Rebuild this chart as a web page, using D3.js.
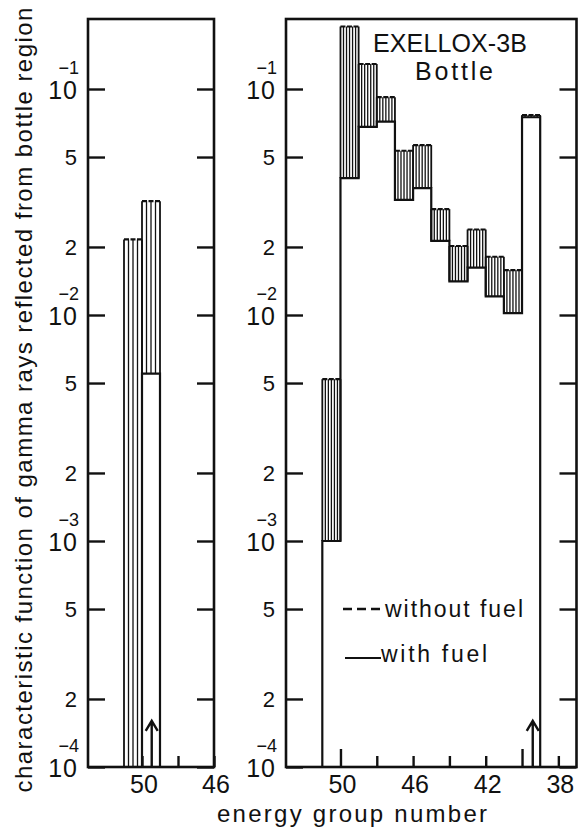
<!DOCTYPE html>
<html>
<head>
<meta charset="utf-8">
<script src="https://cdn.jsdelivr.net/npm/d3@7"></script>
<style>
    body { margin: 0; background: #fff; }
    svg text { font-family: "Liberation Sans", Arial, sans-serif; fill: #111; }
</style>
</head>
<body>
<svg id="chart" width="578" height="832"></svg>
<script>
// each bar spans energy group g down to g - 1
const leftGroups = [51, 50];
const leftWithout = [0.0216, 0.0319];
const leftWith = [0.0001, 0.0055];
const leftArrow = 49.46;

const rightGroups = [51, 50, 49, 48, 47, 46, 45, 44, 43, 42, 41, 40];
const rightWithout = [0.0052, 0.189, 0.129, 0.092, 0.0533, 0.0565, 0.0294, 0.0202, 0.0239, 0.0181, 0.0158, 0.0767];
const rightWith = [0.0010, 0.0403, 0.068, 0.0717, 0.0323, 0.0364, 0.0213, 0.0141, 0.0162, 0.0121, 0.0102, 0.075];
const rightArrow = 39.41;

const yTicks = [1e-1, 5e-2, 2e-2, 1e-2, 5e-3, 2e-3, 1e-3, 5e-4, 2e-4, 1e-4];
const leftXTicks = [50, 48, 46];
const leftXLabels = [50, 46];
const rightXTicks = [50, 48, 46, 44, 42, 40, 38];
const rightXLabels = [50, 46, 42, 38];
const longXTicks = [50, 40];

const svg = d3.select("#chart");
const frameTop = 19, frameBottom = 767;

let y = d3.scaleLog().domain([1e-4, 1e-1]).range([frameBottom, 89]);

/**
 * Draw one framed panel with its histogram
 */
function drawPanel(p) {
    let x = d3.scaleLinear().domain(p.domain).range([p.left, p.right]);
    let g = svg.append("g");

    // hatched region between the two curves
    p.groups.forEach((grp, i) => {
        let x0 = x(grp), x1 = x(grp - 1);
        let n = Math.round((x1 - x0) / p.hatch);
        let xs = d3.range(n + 1).map(k => x0 + k * (x1 - x0) / n);
        g.append("g").selectAll("line")
            .data(xs)
            .enter().append("line")
            .attr("x1", d => d).attr("x2", d => d)
            .attr("y1", y(p.without[i])).attr("y2", y(p.with[i]))
            .attr("stroke", "#111")
            .attr("stroke-width", (d, k) => (k === 0 || k === n) ? 1.8 : 1.3);
        // without fuel (dashed top)
        g.append("line")
            .attr("x1", x0).attr("x2", x1)
            .attr("y1", y(p.without[i])).attr("y2", y(p.without[i]))
            .attr("stroke", "#111").attr("stroke-width", 2.2)
            .attr("stroke-dasharray", "5,1.5");
    });

    // with fuel step line
    let pts = [[p.groups[0], 1e-4]];
    p.groups.forEach((grp, i) => {
        pts.push([grp, p.with[i]], [grp - 1, p.with[i]]);
    });
    pts.push([p.groups[p.groups.length - 1] - 1, 1e-4]);
    g.append("path")
        .attr("d", d3.line().x(d => x(d[0])).y(d => y(d[1]))(pts))
        .attr("fill", "none").attr("stroke", "#111").attr("stroke-width", 2.2);

    // arrow
    let ax = x(p.arrow), tip = y(1.6e-4);
    g.append("path")
        .attr("d", `M${ax},${frameBottom} V${tip} M${ax - 6},${tip + 10} L${ax},${tip} L${ax + 6},${tip + 10}`)
        .attr("fill", "none").attr("stroke", "#111").attr("stroke-width", 2.4);

    // frame
    g.append("rect")
        .attr("x", p.left).attr("y", frameTop)
        .attr("width", p.right - p.left).attr("height", frameBottom - frameTop)
        .attr("fill", "none").attr("stroke", "#111").attr("stroke-width", 2.6);

    // y ticks on both sides, pointing in
    let yl = g.append("g").attr("transform", `translate(${p.left},0)`)
        .call(d3.axisRight(y).tickValues(yTicks).tickSize(17).tickFormat(""));
    let yr = g.append("g").attr("transform", `translate(${p.right},0)`)
        .call(d3.axisLeft(y).tickValues(yTicks).tickSize(17).tickFormat(""));
    [yl, yr].forEach(a => {
        a.select(".domain").remove();
        a.selectAll(".tick line").attr("stroke", "#111").attr("stroke-width", 2.4);
    });

    // y labels: 10 with exponent for decades, mantissa otherwise
    yTicks.forEach(v => {
        let e = Math.round(Math.log10(v));
        let isDecade = Math.abs(v - Math.pow(10, e)) < 1e-12;
        if (isDecade) {
            g.append("text")
                .attr("x", p.left - 10).attr("y", y(v) + 10)
                .attr("text-anchor", "end").attr("font-size", 25)
                .attr("letter-spacing", 1)
                .text("10");
            g.append("text")
                .attr("x", p.left - 9).attr("y", y(v) - 15)
                .attr("text-anchor", "end").attr("font-size", 18)
                .text("\u2212" + (-e));
        } else {
            g.append("text")
                .attr("x", p.left - 11).attr("y", y(v) + 8)
                .attr("text-anchor", "end").attr("font-size", 22)
                .text(Math.round(v / Math.pow(10, Math.floor(Math.log10(v)))));
        }
    });

    // x ticks
    let xa = g.append("g").attr("transform", `translate(0,${frameBottom})`)
        .call(d3.axisTop(x).tickValues(p.xTicks).tickSize(11).tickFormat(""));
    xa.select(".domain").remove();
    xa.selectAll(".tick line")
        .attr("y2", d => longXTicks.includes(d) && p.longTicks ? -18 : -11)
        .attr("stroke", "#111").attr("stroke-width", 2.4);

    g.selectAll(".xlab")
        .data(p.xLabels)
        .enter().append("text")
        .attr("class", "xlab")
        .attr("x", d => x(d) + 2).attr("y", 793)
        .attr("text-anchor", "middle").attr("font-size", 25)
        .text(d => d);

    return x;
}

drawPanel({
    left: 88, right: 214, domain: [53, 46], hatch: 4.5,
    groups: leftGroups, without: leftWithout, with: leftWith,
    arrow: leftArrow, xTicks: leftXTicks, xLabels: leftXLabels, longTicks: false
});

drawPanel({
    left: 286, right: 576.5, domain: [53, 37], hatch: 3,
    groups: rightGroups, without: rightWithout, with: rightWith,
    arrow: rightArrow, xTicks: rightXTicks, xLabels: rightXLabels, longTicks: true
});

// titles and legend
svg.append("text").attr("x", 450).attr("y", 52)
    .attr("text-anchor", "middle").attr("font-size", 25)
    .attr("textLength", 154).attr("lengthAdjust", "spacing")
    .text("EXELLOX-3B");
svg.append("text").attr("x", 454).attr("y", 80)
    .attr("text-anchor", "middle").attr("font-size", 25)
    .attr("textLength", 78).attr("lengthAdjust", "spacing")
    .text("Bottle");

svg.append("line").attr("x1", 343).attr("x2", 384).attr("y1", 609).attr("y2", 609)
    .attr("stroke", "#111").attr("stroke-width", 2.4).attr("stroke-dasharray", "9,5");
svg.append("text").attr("x", 385).attr("y", 617).attr("font-size", 23)
    .attr("textLength", 138).attr("lengthAdjust", "spacing")
    .text("without fuel");
svg.append("line").attr("x1", 345).attr("x2", 381).attr("y1", 658).attr("y2", 658)
    .attr("stroke", "#111").attr("stroke-width", 2.2);
svg.append("text").attr("x", 381).attr("y", 662).attr("font-size", 23)
    .attr("textLength", 106).attr("lengthAdjust", "spacing")
    .text("with fuel");

// axis titles
svg.append("text").attr("x", 217).attr("y", 822).attr("font-size", 24)
    .attr("textLength", 270).attr("lengthAdjust", "spacing")
    .text("energy group number");
svg.append("text")
    .attr("transform", "translate(32,400) rotate(-90)")
    .attr("text-anchor", "middle").attr("font-size", 24)
    .attr("textLength", 785).attr("lengthAdjust", "spacing")
    .text("characteristic function of gamma rays reflected from bottle region");
</script>
</body>
</html>
